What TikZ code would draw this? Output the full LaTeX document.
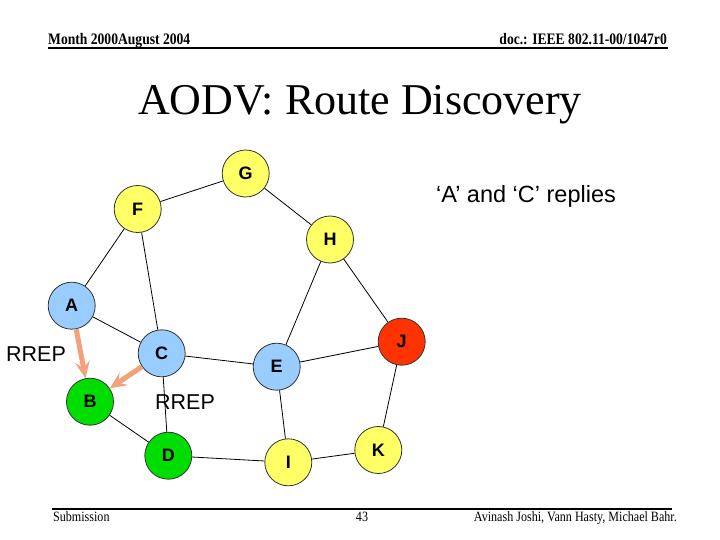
\documentclass[tikz,border=0pt]{standalone}
\usepackage{fontspec}
\setmainfont{Liberation Serif}
\setsansfont{Liberation Sans}
\usetikzlibrary{arrows.meta}
\definecolor{nyellow}{HTML}{FFFF66}
\definecolor{nblue}{HTML}{99CCFF}
\definecolor{ngreen}{HTML}{00DD00}
\definecolor{nred}{HTML}{FF3300}
\definecolor{rrep}{HTML}{F4A07A}
\tikzset{
  netnode/.style={circle, draw=black!80, line width=0.8pt, minimum size=47pt, inner sep=0pt,
    font=\sffamily\bfseries\fontsize{18}{18}\selectfont},
  link/.style={line width=0.8pt, black},
  reply/.style={line width=5pt, rrep, -{Stealth[length=17pt,width=15pt,inset=7pt]}},
  lbl/.style={font=\sffamily\fontsize{21.5}{24}\selectfont, inner sep=0pt},
  hdr/.style={font=\bfseries\fontsize{16}{18}\selectfont, inner sep=0pt},
  ftr/.style={font=\fontsize{14.2}{16}\selectfont, inner sep=0pt},
  rule/.style={line width=2pt, black}
}
\begin{document}
\begin{tikzpicture}[x=1pt,y=-1pt]
\useasboundingbox (0,0) rectangle (720,540);
% header / footer
\node[hdr, anchor=base west] (hl) at (48,45) {\scalebox{0.85}[1]{Month 2000August 2004}};
\node[hdr, anchor=base east] (hr) at (667,45) {\scalebox{0.85}[1]{doc.: IEEE 802.11-00/1047r0}};
\coordinate (hl1) at (48,48);
\coordinate (hl2) at (668,48);
\draw[rule] (hl1) -- (hl2);
\coordinate (fl1) at (52,509);
\coordinate (fl2) at (672,509);
\draw[rule] (fl1) -- (fl2);
\node[ftr, anchor=base west] (fs) at (53,521) {\scalebox{0.85}[1]{Submission}};
\node[ftr, anchor=base] (fp) at (362,521) {\scalebox{0.85}[1]{43}};
\node[ftr, anchor=base east] (fa) at (677,521) {\scalebox{0.85}[1]{Avinash Joshi, Vann Hasty, Michael Bahr.}};
% title
\node[font=\fontsize{44}{48}\selectfont, inner sep=0pt, anchor=base] (title) at (360,115) {AODV: Route Discovery};
% nodes
\node[netnode, fill=nyellow] (G) at (245.7,173.5) {G};
\node[netnode, fill=nyellow] (F) at (137.7,209) {F};
\node[netnode, fill=nyellow] (H) at (330,239.5) {H};
\node[netnode, fill=nblue] (A) at (71.7,305.7) {A};
\node[netnode, fill=nblue] (C) at (161.7,353.3) {C};
\node[netnode, fill=nblue] (E) at (276.7,366.7) {E};
\node[netnode, fill=nred] (J) at (401.7,341.7) {J};
\node[netnode, fill=ngreen] (B) at (90,401.7) {B};
\node[netnode, fill=ngreen] (D) at (168.3,455.7) {D};
\node[netnode, fill=nyellow] (I) at (288.3,462.3) {I};
\node[netnode, fill=nyellow] (K) at (378.3,450) {K};
% links
\draw[link] (G) -- (F);
\draw[link] (G) -- (H);
\draw[link] (F) -- (A);
\draw[link] (F) -- (C);
\draw[link] (H) -- (E);
\draw[link] (H) -- (J);
\draw[link] (A) -- (C);
\draw[link] (C) -- (E);
\draw[link] (C) -- (D);
\draw[link] (B) -- (D);
\draw[link] (E) -- (J);
\draw[link] (E) -- (I);
\draw[link] (J) -- (K);
\draw[link] (I) -- (K);
\draw[link] (D) -- (I);
% replies
\draw[reply] (A) -- (B);
\draw[reply] (C) -- (B);
% labels
\node[lbl] (r1) at (36,354) {RREP};
\node[lbl] (r2) at (185,402.5) {RREP};
\node[font=\sffamily\fontsize{23.5}{26}\selectfont, inner sep=0pt] (rep) at (526,196) {`A' and `C' replies};
\end{tikzpicture}
\end{document}
